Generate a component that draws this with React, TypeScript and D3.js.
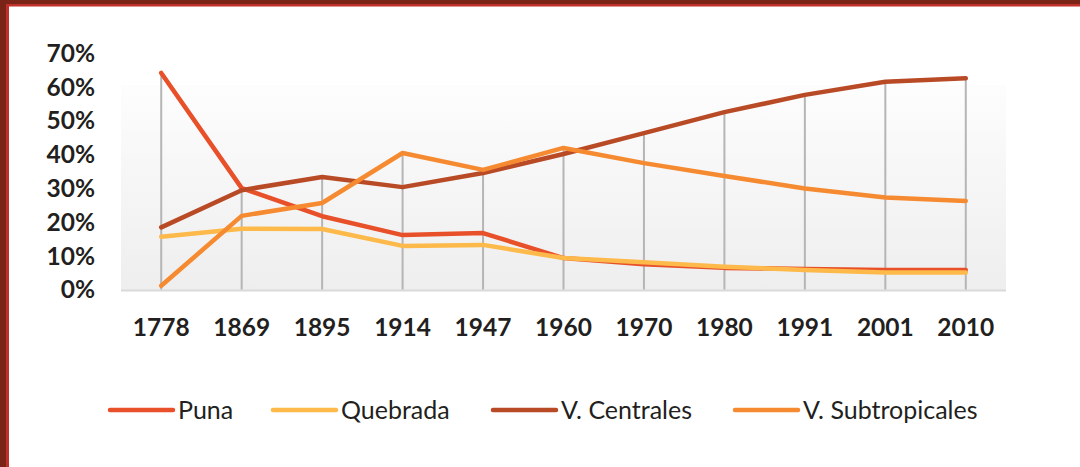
import React from "react";
import * as d3 from "d3";

const years = ["1778", "1869", "1895", "1914", "1947", "1960", "1970", "1980", "1991", "2001", "2010"];
const puna = [64.1, 30.0, 21.7, 16.1, 16.7, 9.3, 7.5, 6.4, 6.1, 5.8, 5.8];
const quebrada = [15.6, 18.0, 17.9, 12.9, 13.2, 9.3, 8.1, 6.7, 5.8, 5.0, 5.0];
const centrales = [18.4, 29.4, 33.3, 30.3, 34.5, 40.1, 46.3, 52.5, 57.6, 61.5, 62.5];
const subtropicales = [1.1, 21.8, 25.6, 40.4, 35.4, 41.9, 37.4, 33.6, 29.9, 27.2, 26.2];
const yTicks = [0, 10, 20, 30, 40, 50, 60, 70];

const seriesNames = ["Puna", "Quebrada", "V. Centrales", "V. Subtropicales"];
const seriesValues = [puna, quebrada, centrales, subtropicales];
const seriesColors = ["#e8502a", "#fdb94a", "#b94a26", "#f58a30"];

export default function App() {
  const W = 1080, H = 467;
  const x = d3.scaleBand<string>().domain(years).range([121, 1006]);
  const y = d3.scaleLinear().domain([0, 70]).range([289.5, 53]);
  const cx = (d: string) => (x(d) as number) + x.bandwidth() / 2;
  const line = d3.line<number>().x((_, i) => cx(years[i])).y((v) => y(v));
  const legendX = [110, 273, 493, 735];
  const font = "Lato, 'Open Sans', sans-serif";

  return (
    <svg width={W} height={H} style={{ position: "absolute", left: 0, top: 0, background: "#fff" }}>
      <defs>
        <linearGradient id="pg" x1="0" y1="0" x2="0" y2="1">
          <stop offset="0" stopColor="#fdfdfd" />
          <stop offset="1" stopColor="#eeeeee" />
        </linearGradient>
      </defs>
      <rect x={0} y={0} width={W} height={H} fill="#fff" />
      <rect x={0} y={0} width={W} height={4} fill="#7a2418" />
      <rect x={0} y={4} width={W} height={2.5} fill="#c0302a" />
      <rect x={0} y={0} width={6} height={H} fill="#7a2418" />
      <rect x={6} y={4} width={3} height={H} fill="#c0302a" />

      <rect x={121} y={85} width={885} height={205} fill="url(#pg)" />
      <line x1={121} x2={1006} y1={290.5} y2={290.5} stroke="#d9d9d9" strokeWidth={2} />

      {years.map((yr, i) => {
        const vals = seriesValues.map((s) => s[i]);
        return (
          <line key={yr} x1={cx(yr)} x2={cx(yr)} y1={y(d3.max(vals) as number)} y2={y(0)}
            stroke="#b5b5b5" strokeWidth={2} />
        );
      })}

      {seriesValues.map((s, k) => (
        <path key={k} d={line(s) as string} fill="none" stroke={seriesColors[k]} strokeWidth={4.5}
          strokeLinejoin="round" strokeLinecap="round" />
      ))}

      {yTicks.map((t) => (
        <text key={t} x={95} y={y(t)} dy="0.36em" textAnchor="end" fontFamily={font}
          fontWeight={700} fontSize={24.5} fill="#231f20">{t}%</text>
      ))}
      {years.map((yr) => (
        <text key={yr} x={cx(yr)} y={335.5} textAnchor="middle" fontFamily={font}
          fontWeight={700} fontSize={24.5} fill="#231f20">{yr}</text>
      ))}

      {seriesNames.map((n, k) => (
        <g key={n}>
          <line x1={legendX[k]} x2={legendX[k] + 63} y1={410} y2={410} stroke={seriesColors[k]}
            strokeWidth={4.5} strokeLinecap="round" />
          <text x={legendX[k] + 68} y={419} fontFamily={font} fontSize={25} fill="#231f20">{n}</text>
        </g>
      ))}
    </svg>
  );
}
